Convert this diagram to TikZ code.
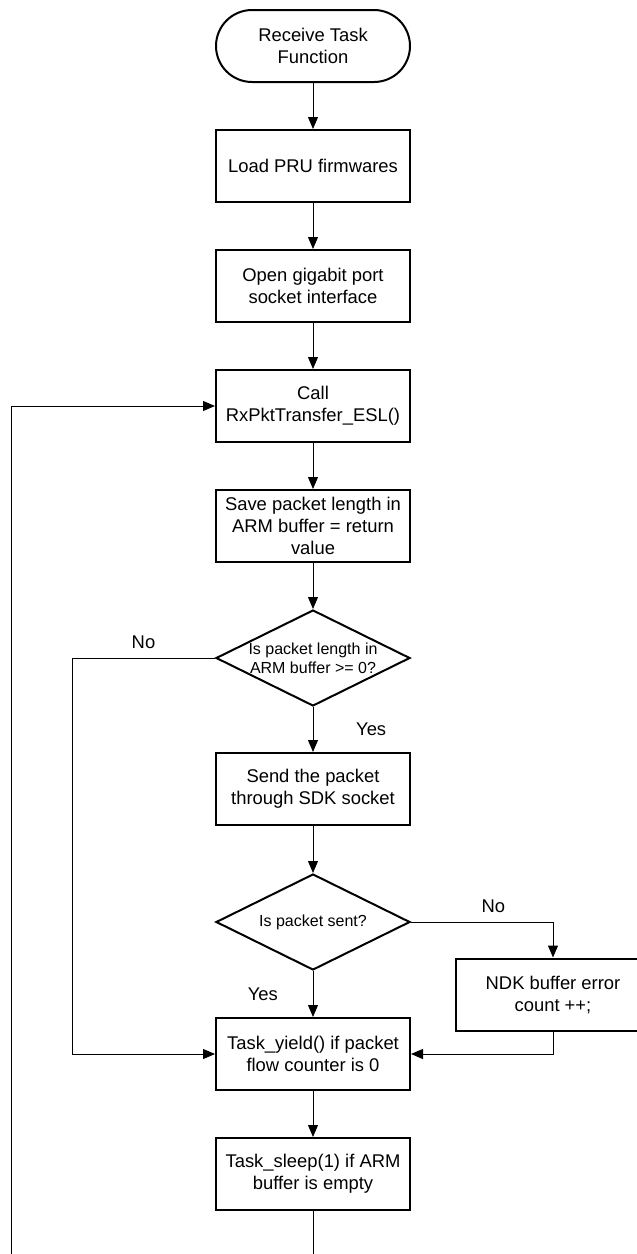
\documentclass[tikz,border=0pt]{standalone}
\usepackage{fontspec}
\setmainfont{Liberation Sans}
\usetikzlibrary{shapes.geometric,arrows.meta}

\begin{document}
\begin{tikzpicture}[x=0.5pt,y=-0.5pt,node distance={60pt},
  >={Triangle[width=5pt,length=6pt]},
  box/.style = {draw, line width=1pt, minimum width=97pt, minimum height=36pt, align=center, font=\fontsize{9.2}{11}\selectfont},
  term/.style = {box, rounded corners=18pt},
  decision/.style = {draw, diamond, line width=1pt, aspect=2, inner sep=-2pt, minimum width=97pt, minimum height=48pt, align=center, font=\fontsize{8}{9.5}\selectfont},
  lbl/.style = {font=\fontsize{9.2}{11}\selectfont}]
\useasboundingbox (0,0) rectangle (637,1254);
\node[term] (start) at (313,46) {Receive Task\\Function};
\node[box] (load) [below of=start] {Load PRU firmwares};
\node[box] (open) [below of=load] {Open gigabit port\\socket interface};
\node[box] (call) [below of=open] {Call\\RxPktTransfer\_ESL()};
\node[box] (save) [below of=call] {Save packet length in\\ARM buffer = return\\value};
\node[decision] (len) [below of=save, node distance=66pt] {Is packet length in\\ARM buffer >= 0?};
\node[box] (send) [below of=len, node distance=65.5pt] {Send the packet\\through SDK socket};
\node[decision] (sent) [below of=send, node distance=66.5pt] {Is packet sent?};
\node[box] (ndk) [right of=sent, node distance=120pt, yshift=-36.25pt] {NDK buffer error\\count ++;};
\node[box] (yield) [below of=sent, node distance=66pt] {Task\_yield() if packet\\flow counter is 0};
\node[box] (sleep) [below of=yield] {Task\_sleep(1) if ARM\\buffer is empty};
\coordinate (loopend) at (11,1254);

\path[line width=0.5pt]
    (start) edge[->] (load)
    (load) edge[->] (open)
    (open) edge[->] (call)
    (call) edge[->] (save)
    (save) edge[->] (len)
    % length check
    (len) edge[->] node[lbl,right=18pt] {Yes} (send)
    (send) edge[->] (sent)
    % packet sent
    (sent) edge[->] node[lbl,left=14pt] {Yes} (yield)
    (yield) edge[->] (sleep);
\draw[->,line width=0.5pt] (len.west) -- node[lbl,above,yshift=1pt] {No} ++(-143,0) |- (yield.west);
\draw[->,line width=0.5pt] (sent) -| node[lbl,above,pos=0.29,yshift=1pt] {No} (ndk);
\draw[->,line width=0.5pt] (ndk) |- (yield);
% back to the call
\draw[line width=0.5pt] (sleep) -- (sleep |- loopend);
\draw[->,line width=0.5pt] (loopend) |- (call);
\end{tikzpicture}
\end{document}
